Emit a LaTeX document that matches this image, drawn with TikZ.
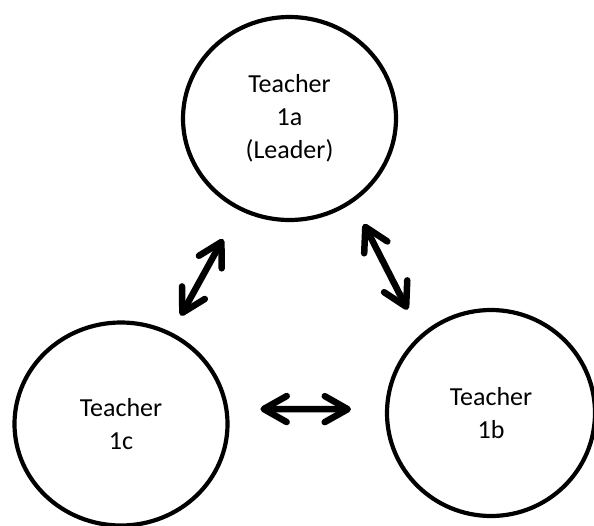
\documentclass[tikz,border=0pt]{standalone}
\usepackage{fontspec}
\setmainfont{Carlito}
\usetikzlibrary{arrows.meta,shapes.geometric}
\begin{document}
\begin{tikzpicture}[
		x = 1pt,
		y = -1pt,
		line join = round,
		line cap = round,
		> = {Straight Barb[round,length=23pt,width=26pt]},
		teacher/.style = {draw, ellipse, line width=4.2pt, align=center,
			minimum width=213pt, minimum height=203pt,
			font=\fontsize{26}{33}\selectfont},
		link/.style = {<->, line width=6.5pt},
		]
\useasboundingbox (0,0) rectangle (594,525);
\node[teacher]	(a)	at (289.5,118.5)	{Teacher\\1a\\(Leader)};
\node[teacher]	(c)	at (121,424)		{Teacher\\1c};
\node[teacher, minimum width=208pt, minimum height=206pt]
		(b)	at (491,413)		{Teacher\\1b};
\draw[link, shorten <=19pt, shorten >=33pt]	(c) -- (a);
\draw[link, shorten <=24pt, shorten >=28pt]	(a.-53) -- (b.132);
\draw[link, shorten <=32pt, shorten >=34pt]	(c.8) -- (b.178);
\end{tikzpicture}
\end{document}
